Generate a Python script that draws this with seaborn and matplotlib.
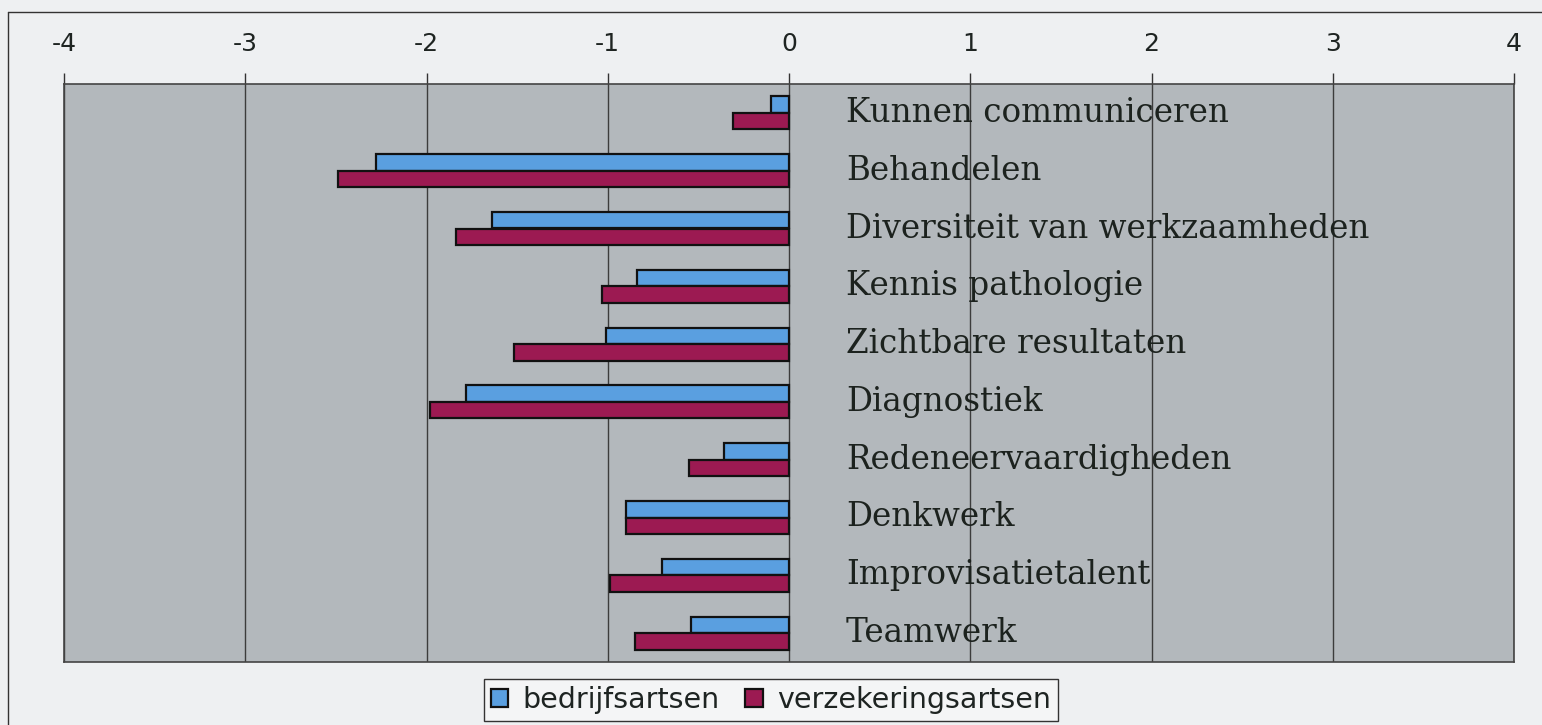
import pandas as pd
import numpy as np
import matplotlib.pyplot as plt
import seaborn as sns

categories = ["Kunnen communiceren", "Behandelen", "Diversiteit van werkzaamheden",
              "Kennis pathologie", "Zichtbare resultaten", "Diagnostiek",
              "Redeneervaardigheden", "Denkwerk", "Improvisatietalent", "Teamwerk"]
bedrijfsartsen = [-0.10, -2.28, -1.64, -0.84, -1.01, -1.78, -0.36, -0.90, -0.70, -0.54]
verzekeringsartsen = [-0.31, -2.49, -1.84, -1.03, -1.52, -1.98, -0.55, -0.90, -0.99, -0.85]
groups = ["bedrijfsartsen", "verzekeringsartsen"]
xticks = [-4, -3, -2, -1, 0, 1, 2, 3, 4]

df = pd.DataFrame({"categorie": categories * 2,
                   "waarde": bedrijfsartsen + verzekeringsartsen,
                   "groep": [groups[0]] * len(categories) + [groups[1]] * len(categories)})

sns.set_style("white")
plt.rcParams['font.family'] = ['DejaVu Sans']

fig = plt.figure(figsize=(15.42, 7.25), dpi=100, facecolor="#eef0f2")
ax = fig.add_axes([64/1542, 1-662/725, (1514-64)/1542, (662-84)/725])
ax.set_facecolor("#b3b8bc")
ax.set_axisbelow(True)

sns.barplot(data=df, y="categorie", x="waarde", hue="groep", order=categories,
            hue_order=groups, palette=["#5a9fe0", "#9c1a52"], orient="h",
            width=0.57, edgecolor="#111111", linewidth=1.6, saturation=1, ax=ax)

ax.set_xlim(-4, 4)
ax.set_xticks(xticks)
ax.set_xticklabels([str(t) for t in xticks])
ax.xaxis.tick_top()
ax.tick_params(axis="x", direction="out", length=8, width=1, color="#333333",
               labelsize=18, pad=12, labelcolor="#1e2422")
ax.set_yticks([])
ax.set_xlabel("")
ax.set_ylabel("")
ax.grid(axis="x", color="#3c3c3c", linewidth=1)
ax.grid(axis="y", visible=False)
for s in ax.spines.values():
    s.set_color("#444444")
    s.set_linewidth(1.2)

for i, c in enumerate(categories):
    ax.text(0.315, i, c, va="center", ha="left", fontsize=23.5,
            family=["DejaVu Serif"], color="#1c221e")

leg = ax.legend(loc="center", bbox_to_anchor=(771/1542, 1-700/725), bbox_transform=fig.transFigure,
                ncol=2, frameon=True, fancybox=False, edgecolor="#333333", facecolor="#f4f5f6",
                fontsize=20.5, handlelength=0.62, handleheight=0.62, handletextpad=0.5,
                columnspacing=0.9, borderpad=0.25, framealpha=1)
for t in leg.get_texts():
    t.set_color("#1e2422")

# outer frame of the original scan
fig.add_artist(plt.Line2D([8/1542, 8/1542], [0, 1-12/725], transform=fig.transFigure, color="#333333", lw=1))
fig.add_artist(plt.Line2D([8/1542, 1], [1-12/725, 1-12/725], transform=fig.transFigure, color="#333333", lw=1))

fig.savefig("out.png", dpi=100, facecolor=fig.get_facecolor())
